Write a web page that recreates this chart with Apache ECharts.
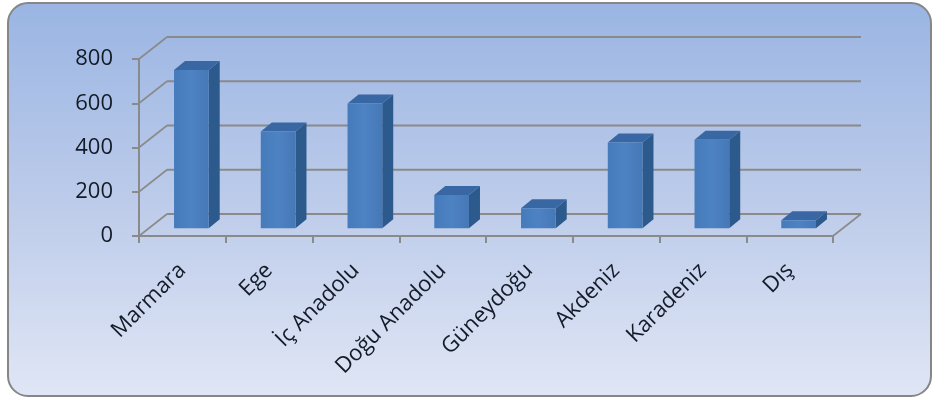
<!DOCTYPE html>
<html>
<head>
<meta charset="utf-8">
<script src="https://cdn.jsdelivr.net/npm/echarts@6/dist/echarts.min.js"></script>
<style>
html,body{margin:0;padding:0;background:#ffffff;}
#chart{width:934px;height:398px;}
</style>
</head>
<body>
<div id="chart"></div>
<script>
const categories = ['Marmara', 'Ege', 'İç Anadolu', 'Doğu Anadolu', 'Güneydoğu', 'Akdeniz', 'Karadeniz', 'Dış'];
const values = [715, 438, 564, 150, 91, 388, 400, 36];
const yTicks = [0, 200, 400, 600, 800];

const DEPTH_X = 28, DEPTH_Y = 22;      // back wall offset
const BAR_OX = 9, BAR_OY = 7.7;        // bar front face offset into depth
const BAR_SX = 11, BAR_SY = 9;         // bar depth
const GRID_COLOR = '#8a8a8a';

const chart = echarts.init(document.getElementById('chart'), null, {renderer: 'canvas'});

function wallsItem(params, api) {
  const v = api.value(1);
  const y = api.coord([0, v])[1];
  const cs = params.coordSys;
  const left = cs.x, right = cs.x + cs.width;
  const children = [
    {type: 'line', shape: {x1: left + DEPTH_X, y1: y - DEPTH_Y, x2: right + DEPTH_X, y2: y - DEPTH_Y},
     style: {stroke: GRID_COLOR, lineWidth: 2}},
    {type: 'line', shape: {x1: left, y1: y, x2: left + DEPTH_X, y2: y - DEPTH_Y},
     style: {stroke: GRID_COLOR, lineWidth: 1.6}}
  ];
  if (v === 0) {
    children.push({type: 'line', shape: {x1: right, y1: y, x2: right + DEPTH_X, y2: y - DEPTH_Y},
      style: {stroke: GRID_COLOR, lineWidth: 1.6}});
  }
  return {type: 'group', children: children};
}

function barItem(params, api) {
  const i = api.value(0);
  const v = api.value(1);
  const p0 = api.coord([i, 0]);
  const p1 = api.coord([i, v]);
  const band = api.size([1, 0])[0];
  const w = band * 0.4;
  const cx = p0[0] + BAR_OX;
  const xl = cx - w / 2, xr = cx + w / 2;
  const yb = p0[1] - BAR_OY, yt = p1[1] - BAR_OY;
  return {
    type: 'group',
    children: [
      {type: 'polygon', shape: {points: [[xr, yt], [xr + BAR_SX, yt - BAR_SY], [xr + BAR_SX, yb - BAR_SY], [xr, yb]]},
       style: {fill: '#2d5a8d'}},
      {type: 'polygon', shape: {points: [[xl, yt], [xl + BAR_SX, yt - BAR_SY], [xr + BAR_SX, yt - BAR_SY], [xr, yt]]},
       style: {fill: '#3867a3'}},
      {type: 'rect', shape: {x: xl, y: yt, width: w, height: yb - yt},
       style: {fill: new echarts.graphic.LinearGradient(0, 0, 1, 0, [
         {offset: 0, color: '#467bbb'}, {offset: 0.5, color: '#4d82c3'}, {offset: 1, color: '#4678b6'}])}}
    ]
  };
}

const option = {
  animation: false,
  graphic: [{
    type: 'rect', z: -10, silent: true,
    shape: {x: 8, y: 3, width: 923, height: 393, r: 20},
    style: {
      fill: new echarts.graphic.LinearGradient(0, 0, 0, 1, [
        {offset: 0, color: '#9ab5e3'}, {offset: 0.5, color: '#bccbea'}, {offset: 1, color: '#e0e6f5'}]),
      stroke: '#868686', lineWidth: 2
    }
  }],
  grid: {left: 139, right: 101, top: 59, bottom: 162, containLabel: false},
  xAxis: {
    type: 'category',
    data: categories,
    axisLine: {show: true, lineStyle: {color: GRID_COLOR, width: 2}},
    axisTick: {show: true, length: 7, lineStyle: {color: GRID_COLOR, width: 2}},
    axisLabel: {rotate: 45, margin: 31, fontFamily: 'Open Sans', fontSize: 22, color: '#141b28', interval: 0},
    splitLine: {show: false}
  },
  yAxis: {
    type: 'value',
    min: 0, max: 800, interval: 200,
    axisLine: {show: true, lineStyle: {color: GRID_COLOR, width: 2}},
    axisTick: {show: true, length: 7, lineStyle: {color: GRID_COLOR, width: 2}},
    axisLabel: {margin: 26, fontFamily: 'Open Sans', fontSize: 22, color: '#141b28'},
    splitLine: {show: false}
  },
  series: [
    {
      type: 'custom', name: 'walls', z: 1, clip: false, silent: true,
      renderItem: wallsItem,
      data: yTicks.map(v => [0, v])
    },
    {
      type: 'custom', name: 'bars', z: 3, clip: false,
      renderItem: barItem,
      data: values.map((v, i) => [i, v])
    }
  ]
};
chart.setOption(option);
</script>
</body>
</html>
